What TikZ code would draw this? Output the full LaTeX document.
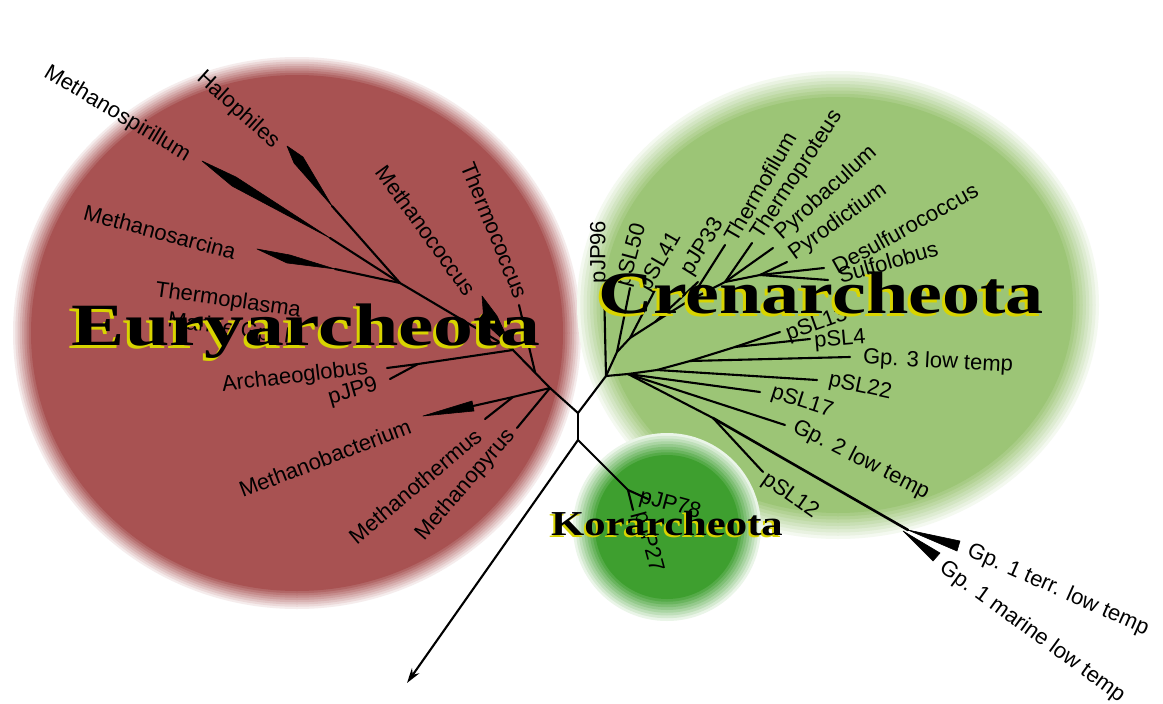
\documentclass[tikz,border=0pt]{standalone}
\usepackage{fontspec}
\setmainfont{Liberation Serif}
\newfontfamily\labfont{Liberation Sans}
\usetikzlibrary{arrows.meta}
\definecolor{eury}{HTML}{A85252}
\definecolor{cren}{HTML}{9CC576}
\definecolor{kor}{HTML}{3E9F2F}
\definecolor{ybright}{HTML}{D8D400}
\begin{document}
\begin{tikzpicture}[x=1pt,y=-1pt,
  lab/.style={font=\labfont\fontsize{22}{24}\selectfont, inner sep=0pt},
  br/.style={line width=2.1pt, line cap=round, line join=round},
  wedge/.style={fill=black, draw=black, line width=0.6pt, line join=round},
  big/.style={font=\bfseries\fontsize{60}{60}\selectfont, inner sep=0pt, anchor=base},
  kbig/.style={font=\bfseries\fontsize{35}{35}\selectfont, inner sep=0pt, anchor=base}]
\useasboundingbox (0,0) rectangle (1163,704);
\fill[white] (0,0) rectangle (1163,704);

% group discs with soft rims
\foreach \i in {1,...,8}{
  \pgfmathsetmacro\rx{266+18*(9-\i)/8}
  \pgfmathsetmacro\ry{258+18*(9-\i)/8}
  \pgfmathtruncatemacro\pc{100*\i/9}
  \fill[eury!\pc!white] (297,333) ellipse [x radius=\rx pt, y radius=\ry pt];
}
\fill[eury] (297,333) ellipse [x radius=266pt, y radius=258pt];
\foreach \i in {1,...,8}{
  \pgfmathsetmacro\rx{235+26*(9-\i)/8}
  \pgfmathsetmacro\ry{208+26*(9-\i)/8}
  \pgfmathtruncatemacro\pc{100*\i/9}
  \fill[cren!\pc!white] (838,305) ellipse [x radius=\rx pt, y radius=\ry pt];
}
\fill[cren] (838,305) ellipse [x radius=235pt, y radius=208pt];
\foreach \i in {1,...,8}{
  \pgfmathsetmacro\rr{72+22*(9-\i)/8}
  \pgfmathtruncatemacro\pc{100*\i/9}
  \fill[kor!\pc!white] (667,527) circle [radius=\rr pt];
}
\fill[kor] (667,527) circle [radius=72pt];

% tree coordinates
\coordinate (J1) at (578,413);
\coordinate (J2) at (578,440);
\coordinate (HE) at (550,388);
\coordinate (HC) at (606,376);
\coordinate (R) at (407,683);
\coordinate (K) at (628,490);
\coordinate (k78) at (648,499);
\coordinate (k27) at (633,510);
% Euryarchaeota
\coordinate (A) at (400,283);
\coordinate (E) at (513,350);
\coordinate (T2) at (535,372);
\coordinate (F) at (513,397);
\coordinate (D) at (418,364);
\coordinate (halo) at (332,206);
\coordinate (mspi) at (330,238);
\coordinate (msar) at (335,269);
\coordinate (mcoc) at (512,348);
\coordinate (tcoc) at (519,305);
\coordinate (arch) at (387,368);
\coordinate (jp9) at (390,379);
\coordinate (mbac) at (473,406);
\coordinate (mthe) at (485,419);
\coordinate (mpyr) at (517,428);
% Crenarchaeota
\coordinate (U1) at (617,352);
\coordinate (U2) at (630,338);
\coordinate (U3) at (655,322);
\coordinate (U4) at (690,300);
\coordinate (U5) at (725,282);
\coordinate (U6) at (760,275);
\coordinate (jp96) at (604,285);
\coordinate (sl50) at (630,288);
\coordinate (sl41) at (656,288);
\coordinate (jp33) at (698,282);
\coordinate (tfil) at (725,245);
\coordinate (tpro) at (752,243);
\coordinate (pbac) at (773,248);
\coordinate (pdic) at (787,262);
\coordinate (desu) at (824,268);
\coordinate (sulf) at (828,280);
\coordinate (V1) at (628,374);
\coordinate (V2) at (657,370);
\coordinate (V3) at (690,361);
\coordinate (V4) at (735,347);
\coordinate (N1) at (713,418);
\coordinate (W) at (908,530);
\coordinate (sl13) at (780,332);
\coordinate (sl4) at (810,339);
\coordinate (gp3) at (850,357);
\coordinate (sl22) at (817,380);
\coordinate (sl17) at (760,392);
\coordinate (gp2) at (785,425);
\coordinate (sl12) at (763,472);

% central part and root
\draw[br] (HE) -- (J1) -- (HC);
\draw[br] (J1) -- (J2);
\draw[br, -{Stealth[length=15pt,width=9pt]}] (J2) -- (R);
\draw[br] (J2) -- (K) -- (k78);
\draw[br] (K) -- (k27);

% Euryarchaeota branches
\draw[br] (HE) -- (E) -- (A);
\draw[br] (A) -- (halo);
\draw[br] (A) -- (mspi);
\draw[br] (A) -- (msar);
\draw[br] (E) -- (mcoc);
\draw[br] (tcoc) -- (T2);
\draw[br] (E) -- (D) -- (arch);
\draw[br] (D) -- (jp9);
\draw[br] (HE) -- (F) -- (mbac);
\draw[br] (F) -- (mthe);
\draw[br] (HE) -- (mpyr);
\fill[wedge] (287,146) -- (303,157) -- (halo) -- (294,163) -- cycle;
\fill[wedge] (202,161) -- (236,177) -- (mspi) -- (232,186) -- cycle;
\fill[wedge] (257,249) -- (290,255) -- (msar) -- (287,263) -- cycle;
\fill[wedge] (482,296) -- (497,316) -- (mcoc) -- (484,322) -- cycle;
\fill[wedge] (423,416) -- (472,401) -- (474,411) -- cycle;

% Crenarchaeota branches
\draw[br] (HC) -- (jp96);
\draw[br] (HC) -- (U1) -- (U2) -- (U3) -- (U4) -- (U5) -- (U6);
\draw[br] (U1) -- (sl50);
\draw[br] (U2) -- (sl41);
\draw[br] (U3) -- (jp33);
\draw[br] (U4) -- (tfil);
\draw[br] (U5) -- (tpro);
\draw[br] (U5) -- (pbac);
\draw[br] (U6) -- (pdic);
\draw[br] (U6) -- (desu);
\draw[br] (U6) -- (sulf);
\draw[br] (HC) -- (V1) -- (V2) -- (V3) -- (V4);
\draw[br] (V1) -- (sl17);
\draw[br] (V1) -- (gp2);
\draw[br] (V1) -- (N1);
\draw[br] (V2) -- (sl22);
\draw[br] (V3) -- (gp3);
\draw[br] (V4) -- (sl13);
\draw[br] (V4) -- (sl4);
\draw[br] (N1) -- (sl12);
\draw[br, line width=2.6pt] (N1) -- (W);
\fill[wedge] (W) -- (960,541) -- (957,551) -- cycle;
\fill[wedge] (903,531) -- (940,553) -- (933,561) -- cycle;

% small labels - Euryarchaeota
\node[lab, rotate=-31] (lMspi) at (117,114) {Methanospirillum};
\node[lab, rotate=-42] (lHalo) at (238,110) {Halophiles};
\node[lab, rotate=-15] (lMsar) at (160,232) {Methanosarcina};
\node[lab, rotate=-8] (lTpla) at (228,301) {Thermoplasma};
\node[lab, rotate=-8] (lMar) at (232,330) {Marine Gp. II};
\node[lab, rotate=-68] (lTcoc) at (495,230) {Thermococcus};
\node[lab, rotate=-54] (lMcoc) at (426,230) {Methanococcus};
\node[lab, rotate=7] (lArch) at (295,377) {Archaeoglobus};
\node[lab, rotate=16] (lJP9) at (353,392) {pJP9};
\node[lab, rotate=21] (lMbac) at (325,458) {Methanobacterium};
\node[lab, rotate=40] (lMthe) at (415,486) {Methanothermus};
\node[lab, rotate=49] (lMpyr) at (466,485) {Methanopyrus};

% small labels - Crenarchaeota
\node[lab, rotate=90] (lJP96) at (600,252) {pJP96};
\node[lab, rotate=75] (lSL50) at (632,255) {pSL50};
\node[lab, rotate=60] (lSL41) at (661,262) {pSL41};
\node[lab, rotate=58] (lJP33) at (703,247) {pJP33};
\node[lab, rotate=60] (lTfil) at (760,187) {Thermofilum};
\node[lab, rotate=57] (lTpro) at (797,175) {Thermoproteus};
\node[lab, rotate=42] (lPbac) at (826,193) {Pyrobaculum};
\node[lab, rotate=36] (lPdic) at (838,222) {Pyrodictium};
\node[lab, rotate=29] (lDesu) at (905,228) {Desulfurococcus};
\node[lab, rotate=16] (lSulf) at (888,262) {Sulfolobus};
\node[lab, rotate=20] (lSL13) at (817,325) {pSL13};
\node[lab, rotate=5] (lSL4) at (840,340) {pSL4};
\node[lab, rotate=-3] (lGp3) at (938,362) {Gp. 3 low temp};
\node[lab, rotate=-12] (lSL22) at (860,387) {pSL22};
\node[lab, rotate=-18] (lSL17) at (802,402) {pSL17};
\node[lab, rotate=-27] (lGp2) at (861,460) {Gp. 2 low temp};
\node[lab, rotate=-35] (lSL12) at (790,496) {pSL12};
\node[lab, rotate=-24] (lGp1t) at (1058,590) {Gp. 1 terr. low temp};
\node[lab, rotate=-36] (lGp1m) at (1032,632) {Gp. 1 marine low temp};

% small labels - Korarchaeota
\node[lab, rotate=-15] (lJP78) at (670,505) {pJP78};
\node[lab, rotate=-75] (lJP27) at (648,542) {pJP27};

% group names
\node[big, text=ybright, xscale=1.33] (euryY) at (303,348) {Euryarcheota};
\node[big, text=black, xscale=1.33] (euryN) at (306,345) {Euryarcheota};
\node[big, text=ybright, xscale=1.27] (crenY) at (818,316) {Crenarcheota};
\node[big, text=black, xscale=1.27] (crenN) at (821,313) {Crenarcheota};
\node[kbig, text=ybright, xscale=1.22] (korY) at (665,537) {Korarcheota};
\node[kbig, text=black, xscale=1.22] (korN) at (667,535) {Korarcheota};
\end{tikzpicture}
\end{document}
